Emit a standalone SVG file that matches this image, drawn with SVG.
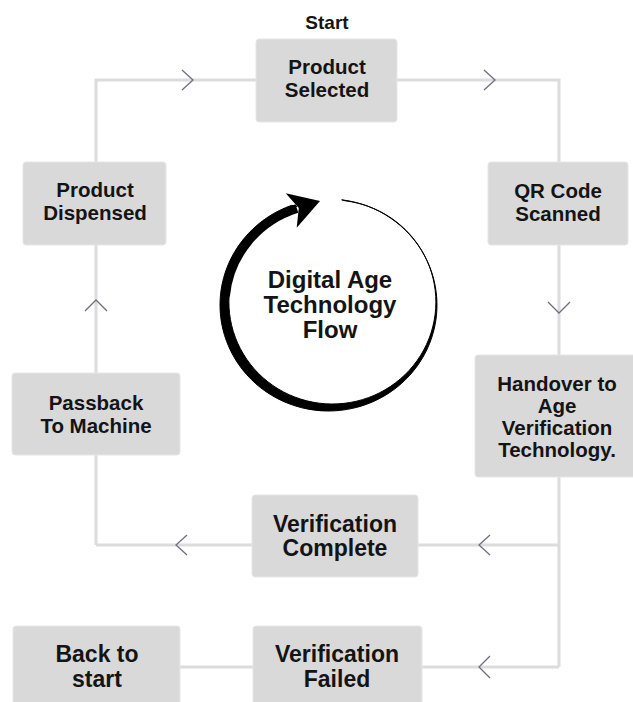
<svg xmlns="http://www.w3.org/2000/svg" width="633" height="702" viewBox="0 0 633 702">
<style>
.box{fill:#d9d9d9;stroke:#e6e6e6;stroke-width:1}
.t{font-family:"Liberation Sans",Arial,sans-serif;font-weight:bold;fill:#141414;text-anchor:middle}
.s{font-size:20.5px}
.l{font-size:23px}
.line{fill:none;stroke:#dcdcdc;stroke-width:3}
.chev{fill:none;stroke:#6e6e80;stroke-width:1.3}
</style>
<rect width="633" height="702" fill="#fff"/>
<g id="connectors">
<path class="line" d="M96 545 V80 H559 V667 M96 545 H559 M180 667 H559"/>
<path class="chev" d="M182 70 L193 80 L182 90"/>
<path class="chev" d="M484 70 L495 80 L484 90"/>
<path class="chev" d="M548 302 L559 313 L570 302"/>
<path class="chev" d="M85 311 L96 300 L107 311"/>
<path class="chev" d="M187 535 L176 545 L187 555"/>
<path class="chev" d="M490 535 L479 545 L490 555"/>
<path class="chev" d="M490 656 L479 667 L490 678"/>
</g>
<g id="start-label"><text class="t" x="327" y="29" font-size="19">Start</text></g>
<g id="product-selected">
<rect class="box" x="256" y="39" width="141" height="83" rx="3"/>
<text class="t s" x="327" y="74">Product</text>
<text class="t s" x="327" y="97">Selected</text>
</g>
<g id="product-dispensed">
<rect class="box" x="23" y="162" width="143" height="83" rx="3"/>
<text class="t s" x="95" y="197">Product</text>
<text class="t s" x="95" y="220">Dispensed</text>
</g>
<g id="qr-code-scanned">
<rect class="box" x="488" y="162" width="140" height="83" rx="3"/>
<text class="t s" x="558" y="198">QR Code</text>
<text class="t s" x="558" y="221">Scanned</text>
</g>
<g id="handover">
<rect class="box" x="475" y="355" width="165" height="122" rx="3"/>
<text class="t s" x="557" y="391">Handover to</text>
<text class="t s" x="557" y="413">Age</text>
<text class="t s" x="557" y="435">Verification</text>
<text class="t s" x="557" y="457">Technology.</text>
</g>
<g id="passback">
<rect class="box" x="12" y="373" width="168" height="82" rx="3"/>
<text class="t s" x="96" y="410">Passback</text>
<text class="t s" x="96" y="433">To Machine</text>
</g>
<g id="verification-complete">
<rect class="box" x="252" y="495" width="166" height="82" rx="3"/>
<text class="t l" x="335" y="532">Verification</text>
<text class="t l" x="335" y="556">Complete</text>
</g>
<g id="back-to-start">
<rect class="box" x="13" y="626" width="167" height="90" rx="3"/>
<text class="t l" x="97" y="662">Back to</text>
<text class="t l" x="97" y="687">start</text>
</g>
<g id="verification-failed">
<rect class="box" x="253" y="626" width="169" height="90" rx="3"/>
<text class="t l" x="337" y="662">Verification</text>
<text class="t l" x="337" y="687">Failed</text>
</g>
<g id="cycle">
<path d="M291.4 205.4 A108.5 106 0 1 0 341.7 199.8 L345.2 200.8 A103.5 102 0 1 1 296.9 206.2 Z" fill="#000" stroke="#000" stroke-width="1"/>
<path d="M225.4 296.2 A104 101.5 0 0 1 296.9 208.5" fill="none" stroke="#000" stroke-width="9"/>
<path d="M320 201 L285.7 193.3 L298.8 208 L296.7 227.7 Z" fill="#000"/>
<text class="t" font-size="24" x="330" y="288">Digital Age</text>
<text class="t" font-size="24" x="330" y="313">Technology</text>
<text class="t" font-size="24" x="330" y="338">Flow</text>
</g>
</svg>
